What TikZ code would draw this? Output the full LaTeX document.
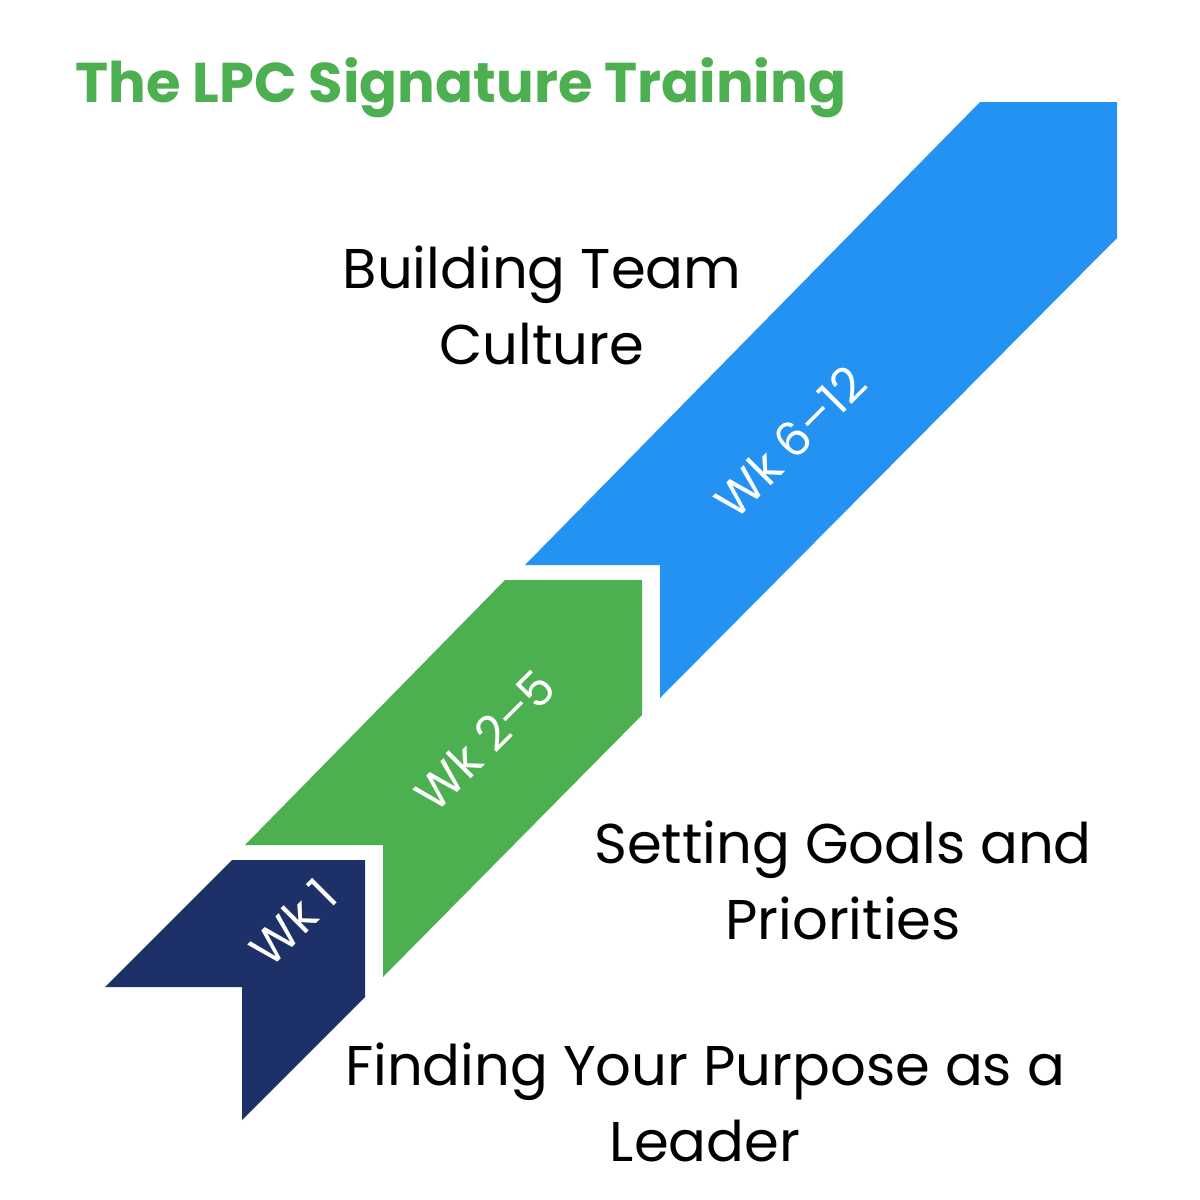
\documentclass[tikz,border=0pt]{standalone}
\usepackage{fontspec}
\setmainfont{Poppins}
\usepackage{xcolor}
\usepackage{tikz}
\definecolor{navy}{HTML}{1E3068}
\definecolor{leaf}{HTML}{4CAF50}
\definecolor{sky}{HTML}{2492F2}
\tikzset{
    weeklabel/.style = {text = white, font = \fontsize{48}{54}\selectfont, rotate = 45},
    topiclabel/.style = {align = center, font = \fontsize{56}{76}\selectfont}
}

\begin{document}
\begin{tikzpicture}[x = 1pt, y = -1pt]
        \useasboundingbox (0, 0) rectangle (1200, 1200);

        \fill[sky] (525, 565) -- (980, 102) -- (1117, 102) -- (1117, 238)
            -- (660, 698) -- (660, 565) -- cycle;
        \fill[leaf] (245, 845) -- (505, 580) -- (642, 580) -- (642, 715)
            -- (383, 977) -- (383, 845) -- cycle;
        \fill[navy] (105, 987) -- (232, 860) -- (365, 860) -- (365, 997)
            -- (242, 1120) -- (242, 987) -- cycle;

        \node[weeklabel] (wka) at (293, 922) {Wk 1};
        \node[weeklabel] (wkb) at (485, 740) {Wk 2–5};
        \node[weeklabel] (wkc) at (790, 442) {Wk 6–12};

        \node[anchor = west, text = leaf, font = \bfseries\fontsize{56}{60}\selectfont]
            (title) at (72, 88) {The LPC Signature Training};
        \node[topiclabel] (culture) at (542, 305) {Building Team\\Culture};
        \node[topiclabel] (goals) at (843, 880) {Setting Goals and\\Priorities};
        \node[topiclabel] (purpose) at (705, 1102) {Finding Your Purpose as a\\Leader};
\end{tikzpicture}
\end{document}
